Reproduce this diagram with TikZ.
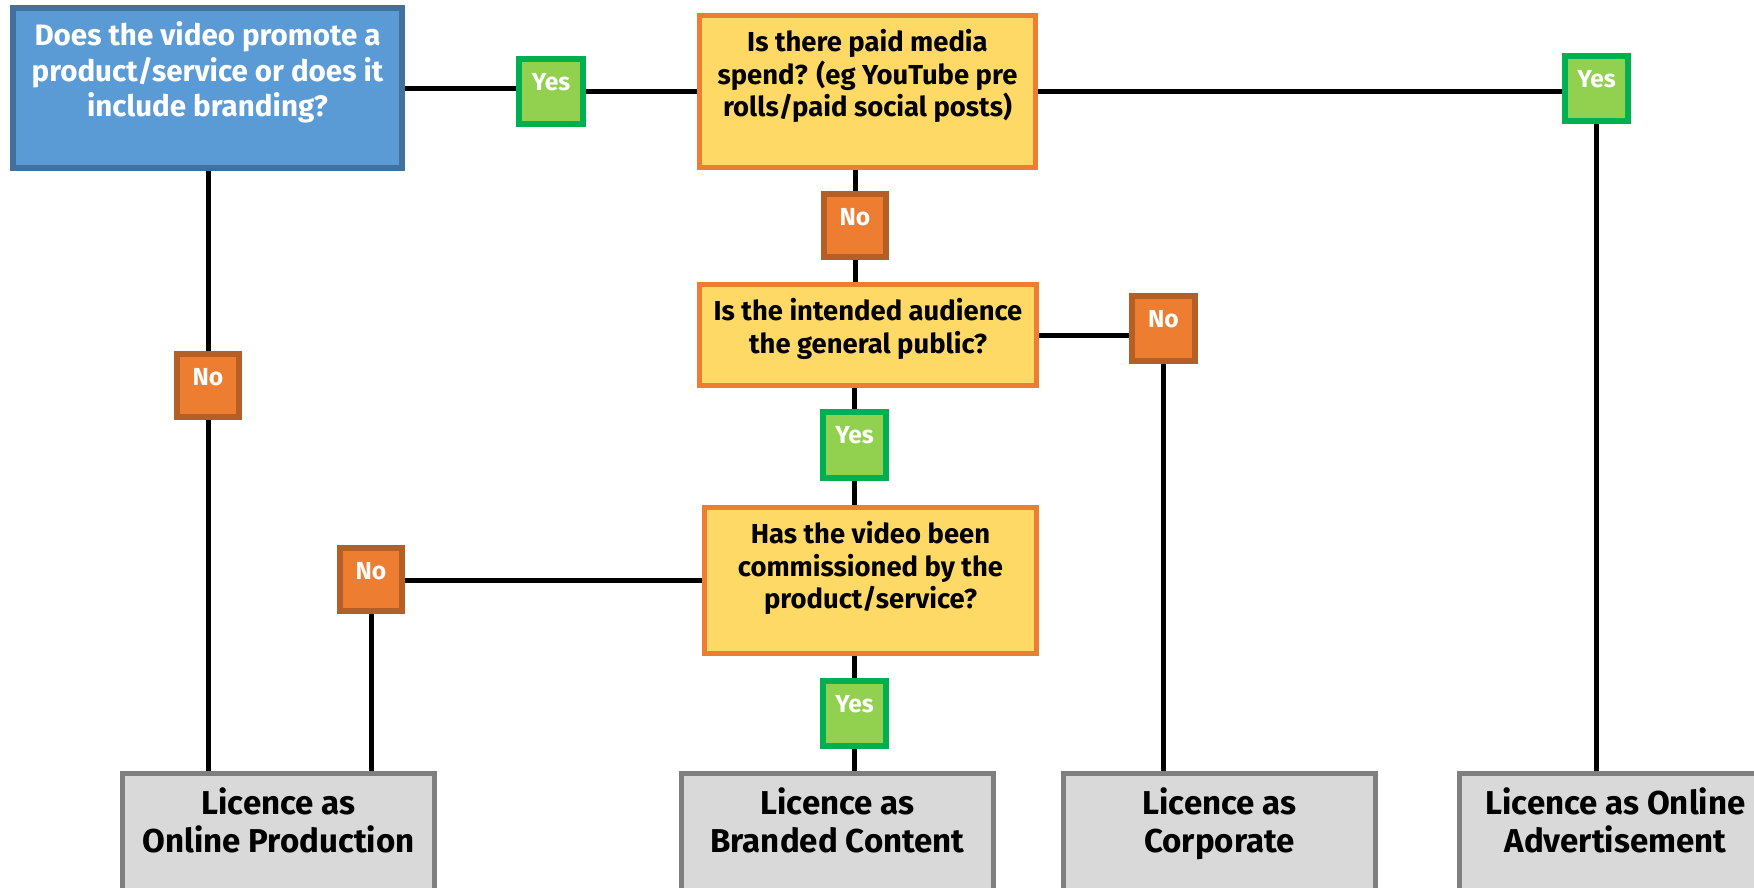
\documentclass[tikz,border=0pt]{standalone}
\usepackage{fontspec}
\setmainfont{Fira Sans}
\usetikzlibrary{backgrounds}
\definecolor{qblue}{HTML}{5B9BD5}
\definecolor{qblueline}{HTML}{41719C}
\definecolor{qyellow}{HTML}{FFD966}
\definecolor{qorange}{HTML}{ED7D31}
\definecolor{yfill}{HTML}{92D050}
\definecolor{yedge}{HTML}{00B050}
\definecolor{nfill}{HTML}{ED7D31}
\definecolor{nedge}{HTML}{B45F25}
\definecolor{lfill}{HTML}{D9D9D9}
\definecolor{ledge}{HTML}{7F7F7F}
\def\boxtxt#1#2#3{\parbox[c][#1][t]{#2}{\centering\vspace*{0.14cm}#3\par}}

\begin{document}
\begin{tikzpicture}[x=0.01cm, y=-0.01cm,
	qstart/.style={draw=qblueline, fill=qblue, line width=0.06cm, inner sep=0pt, text=white, font=\bfseries\fontsize{8.4}{10}\selectfont},
	qask/.style={draw=qorange, fill=qyellow, line width=0.05cm, inner sep=0pt, font=\bfseries\fontsize{7.8}{9.2}\selectfont},
	yesbox/.style={draw=yedge, fill=yfill, line width=0.06cm, inner sep=0pt, text=white, font=\bfseries\fontsize{7}{8}\selectfont},
	nobox/.style={draw=nedge, fill=nfill, line width=0.06cm, inner sep=0pt, text=white, font=\bfseries\fontsize{7}{8}\selectfont},
	licbox/.style={draw=ledge, fill=lfill, line width=0.05cm, inner sep=0pt, font=\bfseries\fontsize{9.4}{10.8}\selectfont},
	link/.style={line width=0.05cm, draw=black}]
	%%%%% START %%%%%
	
	\useasboundingbox (0, 0) rectangle (1754, 887);
	\clip (0, 0) rectangle (1754, 887);
	
	\node[qstart] (q1) at (207.5, 88) {\boxtxt{1.60cm}{3.89cm}{Does the video promote a\\product/service or does it\\include branding?}};
	\node[qask] (q2) at (867.5, 91.5) {\boxtxt{1.52cm}{3.36cm}{Is there paid media\\spend? (eg YouTube pre\\rolls/paid social posts)}};
	\node[qask] (q3) at (868, 335) {\boxtxt{1.01cm}{3.37cm}{Is the intended audience\\the general public?}};
	\node[qask] (q4) at (870.5, 580.5) {\boxtxt{1.46cm}{3.32cm}{Has the video been\\commissioned by the\\product/service?}};
	
	\node[yesbox] (yes1) at (551, 91.5) {\boxtxt{0.64cm}{0.63cm}{Yes}};
	\node[yesbox] (yes2) at (1596.5, 88.5) {\boxtxt{0.65cm}{0.63cm}{Yes}};
	\node[yesbox] (yes3) at (854.5, 445) {\boxtxt{0.66cm}{0.63cm}{Yes}};
	\node[yesbox] (yes4) at (854.5, 713.5) {\boxtxt{0.65cm}{0.63cm}{Yes}};
	
	\node[nobox] (no1) at (855, 225.5) {\boxtxt{0.63cm}{0.62cm}{No}};
	\node[nobox] (no2) at (1163.5, 328.5) {\boxtxt{0.65cm}{0.63cm}{No}};
	\node[nobox] (no3) at (371, 579.5) {\boxtxt{0.63cm}{0.62cm}{No}};
	\node[nobox] (no4) at (208, 385.5) {\boxtxt{0.63cm}{0.62cm}{No}};
	
	\node[licbox] (lic1) at (278.5, 853.5) {\boxtxt{1.60cm}{3.12cm}{Licence as\\Online Production}};
	\node[licbox] (lic2) at (837.5, 853.5) {\boxtxt{1.60cm}{3.12cm}{Licence as\\Branded Content}};
	\node[licbox] (lic3) at (1219.5, 853.5) {\boxtxt{1.60cm}{3.12cm}{Licence as\\Corporate}};
	\node[licbox] (lic4) at (1615.5, 853.5) {\boxtxt{1.60cm}{3.12cm}{Licence as Online\\Advertisement}};
	
	\begin{scope}[on background layer]
		\draw[link] (q1.east) -- (q1.east -| yes1.west);
		\draw[link] (yes1.east) -- (yes1.east -| q2.west);
		\draw[link] (q2.east) -- (q2.east -| yes2.west);
		\draw[link] (yes2.south) -- (yes2.south |- lic4.north);
		
		\draw[link] (q2.south -| no1) -- (no1.north);
		\draw[link] (no1.south) -- (no1.south |- q3.north);
		\draw[link] (q3.east) -- (q3.east -| no2.west);
		\draw[link] (no2.south) -- (no2.south |- lic3.north);
		
		\draw[link] (q3.south -| yes3) -- (yes3.north);
		\draw[link] (yes3.south) -- (yes3.south |- q4.north);
		\draw[link] (q4.west) -- (q4.west -| no3.east);
		\draw[link] (no3.south) -- (no3.south |- lic1.north);
		
		\draw[link] (q1.south -| no4) -- (no4.north);
		\draw[link] (no4.south) -- (no4.south |- lic1.north);
		\draw[link] (q4.south -| yes4) -- (yes4.north);
		\draw[link] (yes4.south) -- (yes4.south |- lic2.north);
	\end{scope}
	
	%%%%% END %%%%%
\end{tikzpicture}
\end{document}
